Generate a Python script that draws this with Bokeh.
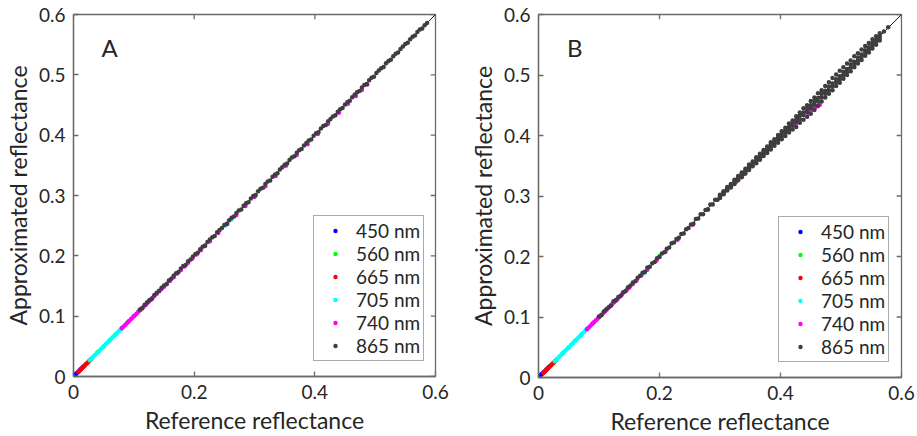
from bokeh.plotting import figure
from bokeh.models import Range1d, FixedTicker, Label, Legend, LegendItem
from bokeh.layouts import row
from bokeh.embed import file_html
from bokeh.resources import INLINE

# ---------------- data ----------------
bands = ["450 nm", "560 nm", "665 nm", "705 nm", "740 nm", "865 nm"]
band_colors = ["#0000ff", "#00ff00", "#ff0000", "#00ffff", "#ff00ff", "#3e3e3e"]
one_to_one = [0.0, 0.6]
x_ticks = [0.0, 0.2, 0.4, 0.6]
x_tick_labels = ["0", "0.2", "0.4", "0.6"]
y_ticks = [0.0, 0.1, 0.2, 0.3, 0.4, 0.5, 0.6]
y_tick_labels = ["0", "0.1", "0.2", "0.3", "0.4", "0.5", "0.6"]
panel_names = ["A", "B"]

# ---- Panel A ----
A_450_x = [0.003, 0.005, 0.007, 0.009, 0.011, 0.013, 0.015, 0.017]
A_450_y = [0.0032, 0.0049, 0.0072, 0.0088, 0.0112, 0.0129, 0.0151, 0.0168]
A_560_x = [0.020, 0.030, 0.040, 0.050, 0.060, 0.070, 0.080, 0.090, 0.100, 0.110]
A_560_y = [0.0202, 0.0299, 0.0401, 0.0498, 0.0601, 0.0699, 0.0802, 0.0898, 0.1001, 0.1099]
A_665_x = [0.008, 0.010, 0.012, 0.014, 0.016, 0.018, 0.020, 0.022, 0.024, 0.026, 0.028]
A_665_y = [0.0076, 0.0097, 0.0116, 0.0137, 0.0156, 0.0176, 0.0197, 0.0216, 0.0236, 0.0256, 0.0276]
A_705_x = [0.027, 0.030, 0.033, 0.036, 0.039, 0.042, 0.045, 0.048, 0.051, 0.054, 0.057,
           0.060, 0.063, 0.066, 0.069, 0.072, 0.075, 0.078, 0.081, 0.120, 0.160, 0.252, 0.262]
A_705_y = [0.0271, 0.0299, 0.0331, 0.0360, 0.0391, 0.0419, 0.0451, 0.0480, 0.0509, 0.0541, 0.0569,
           0.0601, 0.0629, 0.0661, 0.0689, 0.0721, 0.0749, 0.0781, 0.0809, 0.1185, 0.1586, 0.2502, 0.2601]
A_740_x = [0.080, 0.083, 0.086, 0.089, 0.092, 0.095, 0.098, 0.101, 0.104, 0.107, 0.110, 0.113,
           0.116, 0.119, 0.122, 0.125, 0.128, 0.131, 0.134, 0.138, 0.142, 0.146, 0.150, 0.155,
           0.160, 0.166, 0.172, 0.178, 0.184, 0.190, 0.197, 0.204, 0.211, 0.218, 0.226, 0.240,
           0.255, 0.270, 0.285, 0.300, 0.318, 0.335, 0.352, 0.370, 0.388, 0.405, 0.422, 0.440,
           0.455, 0.468, 0.478, 0.487]
A_740_y = [0.0799, 0.0829, 0.0858, 0.0889, 0.0918, 0.0949, 0.0978, 0.1008, 0.1037, 0.1067, 0.1097, 0.1126,
           0.1156, 0.1186, 0.1215, 0.1245, 0.1274, 0.1304, 0.1334, 0.1372, 0.1413, 0.1450, 0.1489, 0.1538,
           0.1587, 0.1647, 0.1706, 0.1765, 0.1825, 0.1884, 0.1954, 0.2023, 0.2093, 0.2162, 0.2242, 0.2378,
           0.2528, 0.2676, 0.2827, 0.2975, 0.3153, 0.3322, 0.3492, 0.3671, 0.3850, 0.4021, 0.4190, 0.4371,
           0.4520, 0.4650, 0.4750, 0.4840]
A_865_x = [0.110, 0.114, 0.118, 0.122, 0.126, 0.130, 0.134, 0.138, 0.142, 0.146,
           0.150, 0.154, 0.158, 0.162, 0.166, 0.170, 0.174, 0.178, 0.182, 0.186,
           0.190, 0.194, 0.198, 0.202, 0.206, 0.210, 0.214, 0.218, 0.222, 0.226,
           0.230, 0.234, 0.238, 0.242, 0.246, 0.250, 0.254, 0.258, 0.262, 0.266,
           0.270, 0.274, 0.278, 0.282, 0.286, 0.290, 0.294, 0.298, 0.302, 0.306,
           0.310, 0.314, 0.318, 0.322, 0.326, 0.330, 0.334, 0.338, 0.342, 0.346,
           0.350, 0.354, 0.358, 0.362, 0.366, 0.370, 0.374, 0.378, 0.382, 0.386,
           0.390, 0.394, 0.398, 0.402, 0.406, 0.410, 0.414, 0.418, 0.422, 0.426,
           0.430, 0.434, 0.438, 0.442, 0.446, 0.450, 0.454, 0.458, 0.462, 0.466,
           0.470, 0.474, 0.478, 0.482, 0.486, 0.490, 0.494, 0.498, 0.502, 0.506,
           0.510, 0.514, 0.518, 0.522, 0.526, 0.530, 0.534, 0.538, 0.542, 0.546,
           0.550, 0.554, 0.558, 0.562, 0.566, 0.570, 0.574, 0.578, 0.582, 0.586]
A_865_y = [0.111, 0.113, 0.119, 0.123, 0.127, 0.129, 0.135, 0.139, 0.142, 0.147,
           0.151, 0.153, 0.159, 0.162, 0.167, 0.171, 0.173, 0.179, 0.183, 0.185,
           0.191, 0.194, 0.199, 0.203, 0.205, 0.211, 0.215, 0.217, 0.223, 0.227,
           0.231, 0.233, 0.239, 0.243, 0.246, 0.251, 0.253, 0.259, 0.263, 0.265,
           0.271, 0.275, 0.277, 0.283, 0.287, 0.289, 0.295, 0.299, 0.301, 0.307,
           0.311, 0.313, 0.319, 0.323, 0.325, 0.331, 0.335, 0.337, 0.343, 0.347,
           0.351, 0.353, 0.359, 0.363, 0.365, 0.371, 0.375, 0.377, 0.383, 0.387,
           0.391, 0.393, 0.399, 0.403, 0.405, 0.411, 0.415, 0.417, 0.423, 0.427,
           0.431, 0.433, 0.439, 0.443, 0.445, 0.451, 0.455, 0.457, 0.463, 0.467,
           0.471, 0.473, 0.479, 0.483, 0.485, 0.491, 0.495, 0.497, 0.503, 0.507,
           0.511, 0.513, 0.519, 0.523, 0.525, 0.531, 0.535, 0.537, 0.543, 0.547,
           0.551, 0.553, 0.559, 0.563, 0.565, 0.571, 0.575, 0.577, 0.582, 0.586]

# ---- Panel B ----
B_450_x = [0.003, 0.005, 0.007, 0.009, 0.011, 0.013, 0.015, 0.017]
B_450_y = [0.0031, 0.0052, 0.0069, 0.0092, 0.0108, 0.0131, 0.0149, 0.0172]
B_560_x = [0.020, 0.030, 0.040, 0.050, 0.060, 0.070, 0.080, 0.090, 0.100, 0.110, 0.200]
B_560_y = [0.0203, 0.0298, 0.0402, 0.0497, 0.0602, 0.0698, 0.0803, 0.0897, 0.1002, 0.1098, 0.2010]
B_665_x = [0.008, 0.010, 0.012, 0.014, 0.016, 0.018, 0.020, 0.022, 0.024, 0.026, 0.028]
B_665_y = [0.0075, 0.0096, 0.0115, 0.0136, 0.0155, 0.0175, 0.0196, 0.0215, 0.0235, 0.0254, 0.0275]
B_705_x = [0.027, 0.030, 0.033, 0.036, 0.039, 0.042, 0.045, 0.048, 0.051, 0.054, 0.057,
           0.060, 0.063, 0.066, 0.069, 0.072, 0.075, 0.078, 0.081, 0.130, 0.150, 0.175]
B_705_y = [0.0270, 0.0301, 0.0329, 0.0361, 0.0389, 0.0421, 0.0449, 0.0481, 0.0508, 0.0542, 0.0568,
           0.0602, 0.0628, 0.0662, 0.0688, 0.0722, 0.0748, 0.0782, 0.0808, 0.1280, 0.1478, 0.1725]
B_740_x = [0.080, 0.083, 0.086, 0.089, 0.092, 0.095, 0.098, 0.101, 0.104, 0.107, 0.110, 0.113,
           0.116, 0.119, 0.122, 0.125, 0.128, 0.131, 0.134, 0.138, 0.142, 0.146, 0.150, 0.156,
           0.162, 0.170, 0.180, 0.195, 0.210, 0.230, 0.255, 0.280, 0.300, 0.318, 0.326, 0.340,
           0.370, 0.400, 0.425, 0.445, 0.449, 0.453, 0.457, 0.461, 0.465, 0.456, 0.451]
B_740_y = [0.0798, 0.0828, 0.0857, 0.0888, 0.0917, 0.0948, 0.0977, 0.1007, 0.1036, 0.1066, 0.1096, 0.1125,
           0.1155, 0.1185, 0.1214, 0.1244, 0.1273, 0.1303, 0.1333, 0.1371, 0.1412, 0.1449, 0.1488, 0.1546,
           0.1605, 0.1684, 0.1783, 0.1932, 0.2080, 0.2277, 0.2525, 0.2773, 0.2970, 0.3150, 0.3228, 0.3365,
           0.3660, 0.3950, 0.4190, 0.4375, 0.4402, 0.4430, 0.4458, 0.4485, 0.4510, 0.4495, 0.4460]
B_865_x = [0.100, 0.104, 0.108, 0.112, 0.116, 0.120, 0.124, 0.128, 0.132, 0.136,
           0.140, 0.144, 0.148, 0.152, 0.156, 0.160, 0.164, 0.168, 0.172, 0.176,
           0.180, 0.184, 0.188, 0.192, 0.196, 0.200, 0.204, 0.208, 0.212, 0.216,
           0.220, 0.224, 0.228, 0.232, 0.236, 0.240, 0.244, 0.248, 0.252, 0.256,
           0.260, 0.264, 0.268, 0.272, 0.276, 0.280, 0.284, 0.288, 0.292, 0.296,
           0.300, 0.300, 0.300, 0.300, 0.306, 0.306, 0.306, 0.306, 0.312, 0.312, 0.312, 0.312,
           0.318, 0.318, 0.318, 0.318, 0.324, 0.324, 0.324, 0.324, 0.330, 0.330, 0.330, 0.330,
           0.336, 0.336, 0.336, 0.336, 0.342, 0.342, 0.342, 0.342, 0.348, 0.348, 0.348, 0.348,
           0.354, 0.354, 0.354, 0.354, 0.360, 0.360, 0.360, 0.360, 0.366, 0.366, 0.366, 0.366,
           0.372, 0.372, 0.372, 0.372, 0.378, 0.378, 0.378, 0.378, 0.384, 0.384, 0.384, 0.384,
           0.390, 0.390, 0.390, 0.390, 0.396, 0.396, 0.396, 0.396, 0.402, 0.402, 0.402, 0.402,
           0.408, 0.408, 0.408, 0.408, 0.414, 0.414, 0.414, 0.414, 0.420, 0.420, 0.420, 0.420,
           0.426, 0.426, 0.426, 0.426, 0.432, 0.432, 0.432, 0.432, 0.438, 0.438, 0.438, 0.438,
           0.444, 0.444, 0.444, 0.444, 0.450, 0.450, 0.450, 0.450, 0.456, 0.456, 0.456, 0.456,
           0.462, 0.462, 0.462, 0.462, 0.468, 0.468, 0.468, 0.468, 0.474, 0.474, 0.474, 0.474,
           0.480, 0.480, 0.480, 0.480, 0.486, 0.486, 0.486, 0.486, 0.492, 0.492, 0.492, 0.492,
           0.498, 0.498, 0.498, 0.498, 0.504, 0.504, 0.504, 0.504, 0.510, 0.510, 0.510, 0.510,
           0.516, 0.516, 0.516, 0.516, 0.522, 0.522, 0.522, 0.522, 0.528, 0.528, 0.528, 0.528,
           0.534, 0.534, 0.534, 0.534, 0.540, 0.540, 0.540, 0.540, 0.546, 0.546, 0.546, 0.546,
           0.552, 0.552, 0.552, 0.552, 0.558, 0.558, 0.558, 0.558, 0.564, 0.564, 0.564, 0.564,
           0.571, 0.578]
B_865_y = [0.101, 0.103, 0.109, 0.113, 0.116, 0.119, 0.126, 0.128, 0.133, 0.135,
           0.141, 0.143, 0.149, 0.152, 0.157, 0.159, 0.165, 0.168, 0.173, 0.175,
           0.182, 0.183, 0.189, 0.191, 0.197, 0.199, 0.205, 0.207, 0.213, 0.215,
           0.222, 0.223, 0.229, 0.231, 0.237, 0.238, 0.245, 0.247, 0.253, 0.254,
           0.262, 0.263, 0.270, 0.270, 0.277, 0.278, 0.286, 0.286, 0.294, 0.294,
           0.302, 0.301, 0.299, 0.297, 0.308, 0.306, 0.305, 0.303, 0.315, 0.313, 0.311, 0.309,
           0.320, 0.318, 0.316, 0.314, 0.327, 0.325, 0.323, 0.320, 0.333, 0.330, 0.328, 0.326,
           0.339, 0.337, 0.334, 0.331, 0.345, 0.342, 0.340, 0.337, 0.352, 0.349, 0.346, 0.343,
           0.357, 0.354, 0.351, 0.349, 0.364, 0.361, 0.358, 0.354, 0.370, 0.366, 0.363, 0.360,
           0.376, 0.373, 0.370, 0.366, 0.382, 0.378, 0.375, 0.371, 0.389, 0.385, 0.381, 0.377,
           0.394, 0.390, 0.387, 0.383, 0.401, 0.397, 0.393, 0.388, 0.407, 0.402, 0.398, 0.394,
           0.413, 0.409, 0.405, 0.399, 0.420, 0.414, 0.410, 0.405, 0.425, 0.421, 0.416, 0.410,
           0.432, 0.426, 0.422, 0.414, 0.438, 0.433, 0.427, 0.421, 0.445, 0.438, 0.434, 0.426,
           0.450, 0.445, 0.439, 0.431, 0.457, 0.450, 0.445, 0.436, 0.463, 0.457, 0.451, 0.442,
           0.470, 0.462, 0.456, 0.449, 0.475, 0.469, 0.463, 0.456, 0.482, 0.474, 0.469, 0.463,
           0.488, 0.481, 0.475, 0.469, 0.495, 0.486, 0.481, 0.475, 0.501, 0.493, 0.488, 0.482,
           0.507, 0.498, 0.493, 0.487, 0.513, 0.505, 0.500, 0.494, 0.519, 0.510, 0.505, 0.500,
           0.524, 0.517, 0.512, 0.506, 0.531, 0.522, 0.518, 0.513, 0.536, 0.529, 0.524, 0.519,
           0.542, 0.534, 0.530, 0.525, 0.548, 0.541, 0.537, 0.532, 0.553, 0.546, 0.542, 0.537,
           0.559, 0.553, 0.549, 0.544, 0.564, 0.558, 0.555, 0.550, 0.569, 0.565, 0.561, 0.557,
           0.572, 0.579]

panel_data = [
    [(A_450_x, A_450_y), (A_560_x, A_560_y), (A_665_x, A_665_y),
     (A_705_x, A_705_y), (A_740_x, A_740_y), (A_865_x, A_865_y)],
    [(B_450_x, B_450_y), (B_560_x, B_560_y), (B_665_x, B_665_y),
     (B_705_x, B_705_y), (B_740_x, B_740_y), (B_865_x, B_865_y)],
]

FONT = "Lato"
TEXT = "#262626"
AXC = "#6a6a6a"
TICK_LEN = 0.008  # inward tick length on the top/right box edges (data units)


def style_axis(ax, ticks, labels):
    ax.ticker = FixedTicker(ticks=ticks)
    ax.major_label_overrides = {t: l for t, l in zip(ticks, labels)}
    ax.minor_tick_line_color = None
    ax.major_tick_in = 5
    ax.major_tick_out = 0
    ax.axis_line_color = AXC
    ax.major_tick_line_color = AXC
    ax.axis_line_width = 1.3
    ax.major_tick_line_width = 1.3
    ax.major_label_text_font = FONT
    ax.major_label_text_color = TEXT
    ax.major_label_text_font_size = "19px"
    ax.major_label_standoff = 8
    ax.axis_label_text_font = FONT
    ax.axis_label_text_font_style = "normal"
    ax.axis_label_text_color = TEXT
    ax.axis_label_text_font_size = "23px"


def make_panel(idx, left, right, top, frame):
    p = figure(frame_width=frame, frame_height=frame,
               x_range=Range1d(0, 0.6), y_range=Range1d(0, 0.6),
               output_backend="svg", toolbar_location=None,
               min_border_left=left, min_border_right=right,
               min_border_top=top, min_border_bottom=50,
               background_fill_color="white", border_fill_color="white")
    p.outline_line_color = AXC
    p.outline_line_width = 1.3
    p.xgrid.visible = False
    p.ygrid.visible = False
    style_axis(p.xaxis[0], x_ticks, x_tick_labels)
    style_axis(p.yaxis[0], y_ticks, y_tick_labels)
    p.xaxis[0].axis_label = "Reference reflectance"
    p.xaxis[0].axis_label_standoff = 4
    p.yaxis[0].axis_label = "Approximated reflectance"
    p.yaxis[0].axis_label_standoff = 4

    # inward ticks on top and right box edges
    top_y = [y_ticks[-1]] * len(x_ticks)
    p.segment(x0=x_ticks, y0=top_y, x1=x_ticks, y1=[v - TICK_LEN for v in top_y],
              line_color=AXC, line_width=1.3)
    right_x = [x_ticks[-1]] * len(y_ticks)
    p.segment(x0=right_x, y0=y_ticks, x1=[v - TICK_LEN for v in right_x], y1=y_ticks,
              line_color=AXC, line_width=1.3)

    p.line(one_to_one, one_to_one, line_color="#1a1a1a", line_width=1)

    items = []
    for name, col, (xs, ys) in zip(bands, band_colors, panel_data[idx]):
        r = p.scatter(xs, ys, size=4.5, marker="circle", fill_color=col, line_color=None)
        items.append(LegendItem(label=name, renderers=[r]))

    leg = Legend(items=items, location=(240, 15), orientation="vertical")
    leg.border_line_color = "#555555"
    leg.border_line_width = 1.3
    leg.background_fill_color = "white"
    leg.background_fill_alpha = 1
    leg.padding = 3
    leg.spacing = 0
    leg.margin = 0
    leg.label_height = 22
    leg.glyph_height = 11
    leg.glyph_width = 36
    leg.label_standoff = 3
    leg.label_text_font = FONT
    leg.label_text_font_size = "19px"
    leg.label_text_color = TEXT
    p.add_layout(leg, "center")

    p.add_layout(Label(x=0.06, y=0.545, text=panel_names[idx], text_font=FONT,
                       text_font_size="24px", text_color=TEXT,
                       text_align="center", text_baseline="middle"))
    return p


pA = make_panel(0, 65, 30, 14, 362)
pB = make_panel(1, 65, 15, 11, 363)
layout = row(pA, pB, spacing=0)

open("out.html", "w").write(file_html(layout, INLINE))
